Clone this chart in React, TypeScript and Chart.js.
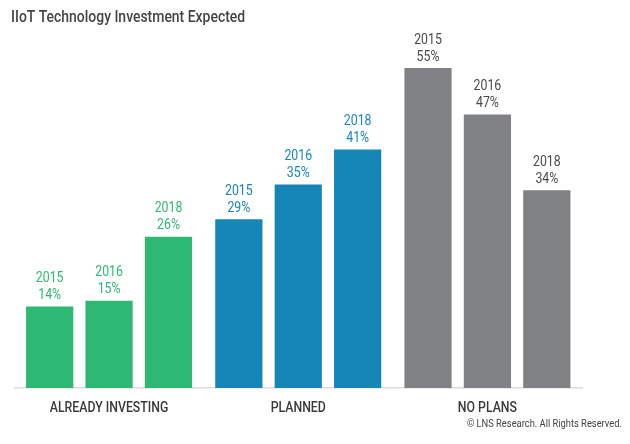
import React, { useEffect, useRef } from "react";
import { Chart, registerables } from "chart.js";

Chart.register(...registerables);

const title = "IIoT Technology Investment Expected";
const footer = "© LNS Research. All Rights Reserved.";
const categories = ["ALREADY INVESTING", "PLANNED", "NO PLANS"];
const years = ["2015", "2016", "2018"];
const values2015 = [14, 29, 55];
const values2016 = [15, 35, 47];
const values2018 = [26, 41, 34];
const barColors = ["#2db873", "#1686b9", "#808185"];
const labelColors = ["#2db873", "#1686b9", "#4a4a4a"];

const FONT = "Roboto, sans-serif";
const SX = 0.82; // horizontal condensing of text

function condensedText(c: CanvasRenderingContext2D, text: string, x: number, y: number, align: "left" | "center" | "right") {
  c.save();
  c.translate(x, y);
  c.scale(SX, 1);
  c.textAlign = align;
  c.fillText(text, 0, 0);
  c.restore();
}

export default function App() {
  const ref = useRef<HTMLCanvasElement>(null);
  useEffect(() => {
    document.body.style.margin = "0";
    const ctx = ref.current!.getContext("2d")!;
    const seriesValues = [values2015, values2016, values2018];
    const labelPlugin = {
      id: "labels",
      afterDraw(chart: any) {
        const c = chart.ctx as CanvasRenderingContext2D;
        c.save();
        c.textBaseline = "alphabetic";
        // title
        c.fillStyle = "#444444";
        c.font = `500 17px ${FONT}`;
        condensedText(c, title, 11, 22, "left");
        // footer
        c.fillStyle = "#444444";
        c.font = `11.4px ${FONT}`;
        condensedText(c, footer, 622, 426.5, "right");
        // category labels
        const xs = chart.scales.x;
        c.fillStyle = "#3a3a3a";
        c.font = `500 15px ${FONT}`;
        chart.data.labels.forEach((lab: string, i: number) => {
          condensedText(c, lab, xs.getPixelForValue(i), 412.3, "center");
        });
        // value labels
        c.font = `15px ${FONT}`;
        chart.data.datasets.forEach((ds: any, di: number) => {
          const meta = chart.getDatasetMeta(di);
          meta.data.forEach((bar: any, i: number) => {
            c.fillStyle = labelColors[i];
            condensedText(c, String(ds.data[i]) + "%", bar.x, bar.y - 7.5, "center");
            condensedText(c, ds.label, bar.x, bar.y - 24.5, "center");
          });
        });
        c.restore();
      },
    };
    const chart = new Chart(ctx, {
      type: "bar",
      data: {
        labels: categories,
        datasets: years.map((y, i) => ({
          label: y,
          data: seriesValues[i],
          backgroundColor: barColors,
          borderWidth: 0,
          categoryPercentage: 0.942,
          barPercentage: 0.795,
        })),
      },
      options: {
        animation: false,
        responsive: false,
        layout: { padding: { left: 14.5, right: 48, top: 39, bottom: 56 } },
        plugins: { legend: { display: false }, tooltip: { enabled: false }, title: { display: false } },
        scales: {
          x: {
            grid: { display: false, drawTicks: false },
            border: { display: true, color: "#dcdcdc", width: 1.5 },
            ticks: { display: false },
          },
          y: { display: false, min: 0, max: 60 },
        },
      },
      plugins: [labelPlugin],
    });
    return () => chart.destroy();
  }, []);
  return (
    <div style={{ position: "absolute", left: 0, top: 0, width: 630, height: 444, background: "#fff" }}>
      <canvas ref={ref} width={630} height={444} style={{ width: 630, height: 444 }} />
    </div>
  );
}
